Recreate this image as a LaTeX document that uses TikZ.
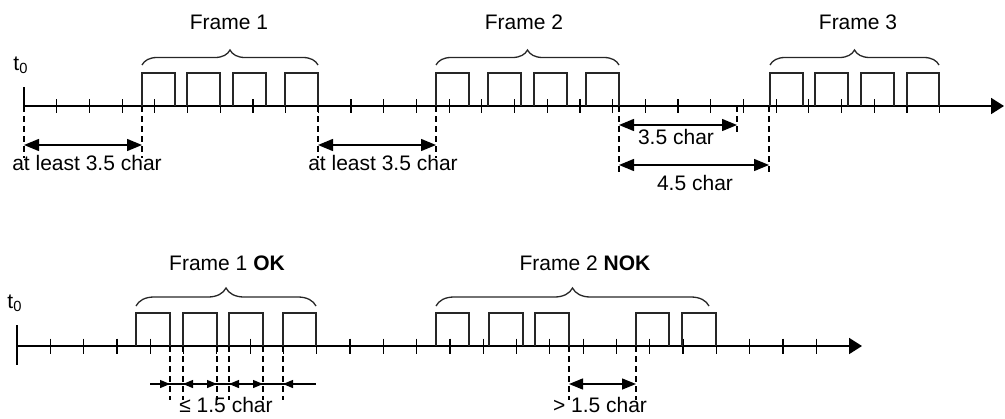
\documentclass[tikz,border=0pt]{standalone}
\usepackage{fontspec}
\setmainfont{Liberation Sans}
\usetikzlibrary{arrows.meta,decorations.pathreplacing}
\begin{document}
\begin{tikzpicture}[x=0.5pt,y=-0.5pt,
 every node/.style={font=\fontsize{10.5pt}{12pt}\selectfont},
 axis/.style={line width=0.9pt,-{Triangle[length=6.5pt,width=8pt]}},
 tickmark/.style={line width=0.6pt},
 pulse/.style={line width=0.65pt,black!85},
 dashline/.style={line width=0.6pt,dash pattern=on 3pt off 2pt},
 dim/.style={line width=0.7pt,{Triangle[length=7.5pt,width=6pt]}-{Triangle[length=7.5pt,width=6pt]}},
 sdimr/.style={line width=0.6pt,-{Triangle[length=5pt,width=4pt]}},
 sdimb/.style={line width=0.6pt,{Triangle[length=5pt,width=4pt]}-{Triangle[length=5pt,width=4pt]}},
 sdiml/.style={line width=0.6pt,{Triangle[length=5pt,width=4pt]}-},
 brc/.style={decorate,decoration={brace,amplitude=#1},line width=0.65pt,black!85},
 lbl/.style={anchor=base,inner sep=0pt},
]
\useasboundingbox (0,0) rectangle (1005,418);

% ---------------- top row ----------------
\coordinate (A0) at (24,106);
\coordinate (A1) at (1004,106);
\draw[axis] (A0) -- (A1);
\draw[tickmark] (24,87) -- (A0);
\foreach \k in {1,...,28} \draw[tickmark] ({24+32.7*\k},99) -- ({24+32.7*\k},113);

% pulses
\foreach \a/\b in {142/175,187/220,233/266,285/318,436/469,488/521,534/567,586/619,770/803,815/848,861/894,907/939}
  \draw[pulse] (\a,106) |- (\b,73) -- (\b,106);

% braces
\draw[brc=7.5pt] (142,65) -- (318,65);
\draw[brc=7.5pt] (436,65) -- (619,65);
\draw[brc=7.5pt] (770,65) -- (939,65);
\node[lbl] (f1) at (229,29.5) {Frame 1};
\node[lbl] (f2) at (524,29.5) {Frame 2};
\node[lbl] (f3) at (858,29.5) {Frame 3};
\node (t0a) at (21,65) {t\textsubscript{0}};

% dashed guides
\foreach \x/\e in {24/158,142/158,318/158,436/158,619/173,737/135,769/173}
  \draw[dashline] (\x,106) -- (\x,\e);

% dimension arrows
\coordinate (d1a) at (24,145);  \coordinate (d1b) at (142,145);
\coordinate (d2a) at (318,145); \coordinate (d2b) at (436,145);
\coordinate (d3a) at (619,125); \coordinate (d3b) at (737,125);
\coordinate (d4a) at (619,165); \coordinate (d4b) at (769,165);
\draw[dim] (d1a) -- (d1b);
\draw[dim] (d2a) -- (d2b);
\draw[dim] (d3a) -- (d3b);
\draw[dim] (d4a) -- (d4b);
\node[lbl] (l1) at (87,170) {at least 3.5 char};
\node[lbl] (l2) at (383,170) {at least 3.5 char};
\node[lbl] (l3) at (676,144) {3.5 char};
\node[lbl] (l4) at (695,190) {4.5 char};

% ---------------- bottom row ----------------
\coordinate (B0) at (17,346);
\coordinate (B1) at (862,346);
\draw[axis] (B0) -- (B1);
\draw[tickmark] (17,325) -- (17,365);
\foreach \k in {1,...,24} \draw[tickmark] ({17+33.3*\k},338.5) -- ({17+33.3*\k},353.5);

\foreach \a/\b in {136/170,183/217,229/263,283/316,436/469,489/523,535/569,636/669,682/716}
  \draw[pulse] (\a,346) |- (\b,313) -- (\b,346);

\draw[brc=9pt] (136,306) -- (316,306);
\draw[brc=9pt] (436,306) -- (709,306);
\node[lbl] (f1b) at (227,270) {Frame 1 \textbf{OK}};
\node[lbl] (f2b) at (585,270) {Frame 2 \textbf{NOK}};
\node (t0b) at (15,303) {t\textsubscript{0}};

\foreach \x in {170,183,217,229,263,283,569,636}
  \draw[dashline] (\x,346) -- (\x,400);

\coordinate (s0) at (150,384);
\coordinate (s1) at (170,384);
\coordinate (s2) at (183,384);
\coordinate (s3) at (217,384);
\coordinate (s4) at (229,384);
\coordinate (s5) at (263,384);
\coordinate (s6) at (283,384);
\coordinate (s7) at (316,384);
\draw[line width=0.6pt] (s0) -- (s7);
\draw[sdimr] (s0) -- (s1);
\draw[sdimb] (s2) -- (s3);
\draw[sdimb] (s4) -- (s5);
\draw[sdiml] (s6) -- (s7);

\coordinate (n1) at (569,384);
\coordinate (n2) at (636,384);
\draw[line width=0.7pt,{Triangle[length=7pt,width=5.5pt]}-{Triangle[length=7pt,width=5.5pt]}] (n1) -- (n2);

\node[lbl] (l5) at (226,412) {≤ 1.5 char};
\node[lbl] (l6) at (600,412) {> 1.5 char};
\end{tikzpicture}
\end{document}
